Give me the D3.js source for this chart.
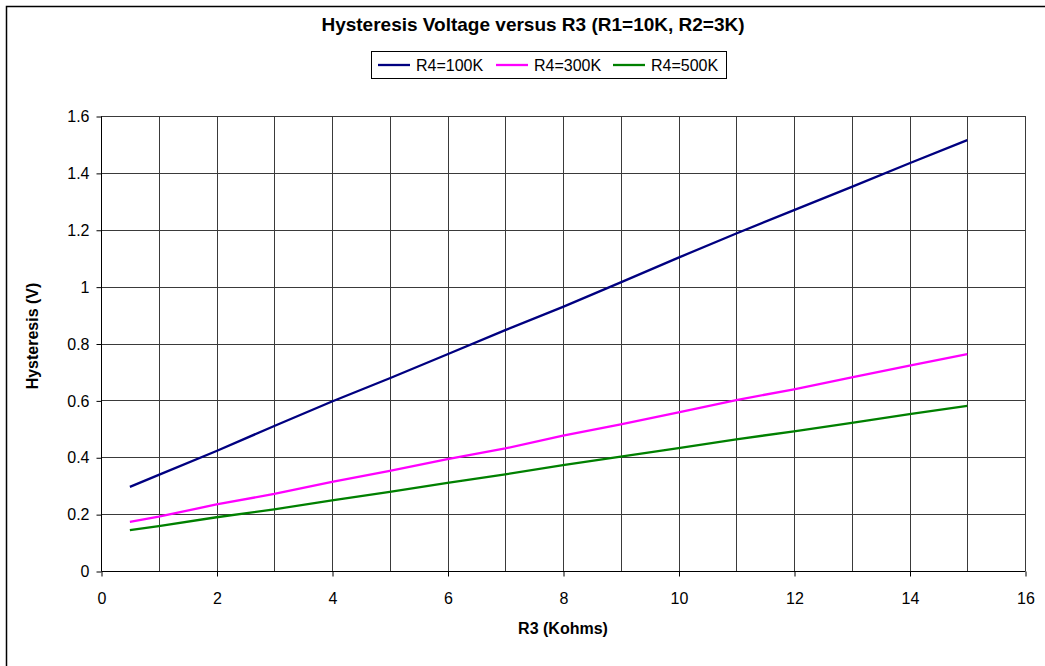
<!DOCTYPE html>
<html>
<head>
<meta charset="utf-8">
<script src="https://cdn.jsdelivr.net/npm/d3@7"></script>
<style>
  body { margin: 0; background: #fff; }
  text { font-family: Arial, "Liberation Sans", sans-serif; }
</style>
</head>
<body>
<script>
// R3 values (Kohms)
var r3 = [0.5, 1, 2, 3, 4, 5, 6, 7, 8, 9, 10, 11, 12, 13, 14, 15];
// hysteresis (V) per R4
var r4_100k = [0.296, 0.338, 0.422, 0.51, 0.596, 0.678, 0.762, 0.847, 0.929, 1.015, 1.102, 1.187, 1.269, 1.351, 1.434, 1.515];
var r4_300k = [0.173, 0.191, 0.234, 0.271, 0.313, 0.352, 0.393, 0.431, 0.476, 0.516, 0.558, 0.601, 0.639, 0.681, 0.722, 0.763];
var r4_500k = [0.144, 0.158, 0.189, 0.217, 0.248, 0.278, 0.31, 0.34, 0.372, 0.402, 0.432, 0.463, 0.491, 0.521, 0.552, 0.581];
var seriesNames = ["R4=100K", "R4=300K", "R4=500K"];
var seriesColors = ["#000080", "#ff00ff", "#008000"];
var xTicks = [0, 2, 4, 6, 8, 10, 12, 14, 16];
var yTicks = [0, 0.2, 0.4, 0.6, 0.8, 1, 1.2, 1.4, 1.6];

var w = 1045, h = 666;
var plotLeft = 101, plotRight = 1025, plotTop = 116, plotBottom = 571;

var svg = d3.select("body").append("svg")
    .attr("width", w)
    .attr("height", h);

// outer chart frame
svg.append("path")
    .attr("d", "M6.5," + h + "V6.5H" + w)
    .attr("fill", "none")
    .attr("stroke", "#000")
    .attr("stroke-width", 1.5);

var x = d3.scaleLinear().domain([0, 16]).range([plotLeft, plotRight]);
var y = d3.scaleLinear().domain([0, 1.6]).range([plotBottom, plotTop]);

// grid
svg.append("g").selectAll("line")
    .data(d3.range(1, 17))
    .enter().append("line")
    .attr("x1", function(d) { return Math.round(x(d)) + 0.5; })
    .attr("x2", function(d) { return Math.round(x(d)) + 0.5; })
    .attr("y1", plotTop).attr("y2", plotBottom)
    .attr("stroke", "#3a3a3a");
svg.append("g").selectAll("line")
    .data(yTicks.slice(1))
    .enter().append("line")
    .attr("y1", function(d) { return Math.round(y(d)) + 0.5; })
    .attr("y2", function(d) { return Math.round(y(d)) + 0.5; })
    .attr("x1", plotLeft).attr("x2", plotRight)
    .attr("stroke", "#3a3a3a");

// axes
var yAxis = svg.append("g")
    .attr("transform", "translate(" + (plotLeft + 0.5) + ",0.5)")
    .call(d3.axisLeft(y).tickValues(yTicks).tickSize(5).tickPadding(7)
        .tickFormat(function(d) { return String(+d.toFixed(1)); }));
var xAxis = svg.append("g")
    .attr("transform", "translate(0.5," + (plotBottom + 0.5) + ")")
    .call(d3.axisBottom(x).tickValues(xTicks).tickSize(5).tickPadding(16));
xAxis.select(".domain").attr("d", "M" + plotLeft + ",0H" + plotRight);
yAxis.select(".domain").attr("d", "M0," + plotTop + "V" + plotBottom);
[xAxis, yAxis].forEach(function(a) {
    a.select(".domain").attr("stroke", "#000");
    a.selectAll(".tick line").attr("stroke", "#000");
    a.selectAll("text")
        .attr("font-family", "Arial, 'Liberation Sans', sans-serif")
        .attr("font-size", 16)
        .attr("fill", "#000");
});

// series
var allSeries = [r4_100k, r4_300k, r4_500k];
var line = d3.line()
    .x(function(d, i) { return x(r3[i]); })
    .y(function(d) { return y(d); });
svg.append("g").selectAll("path")
    .data(allSeries)
    .enter().append("path")
    .attr("d", line)
    .attr("fill", "none")
    .attr("stroke", function(d, i) { return seriesColors[i]; })
    .attr("stroke-width", 2.3);

// title and axis labels
svg.append("text")
    .attr("x", 533).attr("y", 31)
    .attr("text-anchor", "middle")
    .attr("font-size", 19).attr("font-weight", "bold")
    .text("Hysteresis Voltage versus R3 (R1=10K, R2=3K)");
svg.append("text")
    .attr("x", 563).attr("y", 634)
    .attr("text-anchor", "middle")
    .attr("font-size", 16).attr("font-weight", "bold")
    .text("R3 (Kohms)");
svg.append("text")
    .attr("transform", "translate(38,336) rotate(-90)")
    .attr("text-anchor", "middle")
    .attr("font-size", 16).attr("font-weight", "bold")
    .text("Hysteresis (V)");

// legend
var legend = svg.append("g");
legend.append("rect")
    .attr("x", 371.5).attr("y", 51.5)
    .attr("width", 355).attr("height", 27)
    .attr("fill", "#fff").attr("stroke", "#000");
var legX = [378, 496, 613];
var items = legend.selectAll("g.item")
    .data(seriesNames)
    .enter().append("g")
    .attr("class", "item")
    .attr("transform", function(d, i) { return "translate(" + legX[i] + ",65)"; });
items.append("line")
    .attr("x1", 0).attr("x2", 32)
    .attr("stroke", function(d, i) { return seriesColors[i]; })
    .attr("stroke-width", 2.3);
items.append("text")
    .attr("x", 38).attr("y", 6)
    .attr("font-size", 16)
    .text(function(d) { return d; });
</script>
</body>
</html>
